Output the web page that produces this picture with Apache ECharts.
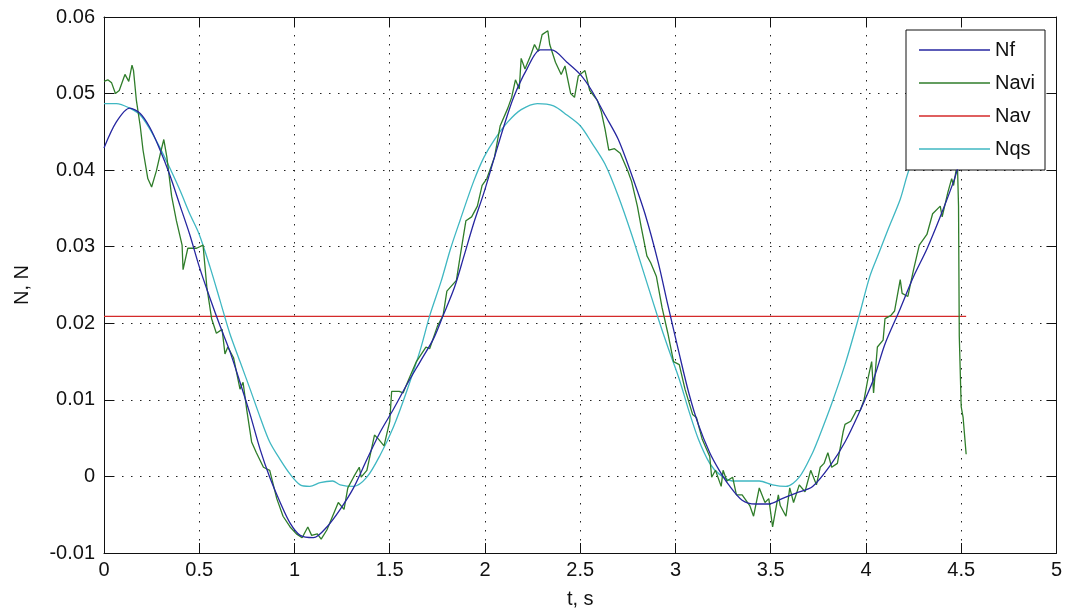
<!DOCTYPE html>
<html><head><meta charset="utf-8">
<script src="https://cdn.jsdelivr.net/npm/echarts@6/dist/echarts.min.js"></script>
<style>html,body{margin:0;padding:0;background:#fff}#c{width:1065px;height:615px}</style>
</head><body><div id="c"></div>
<script>
// ---- data (values in N) ----
const seriesNames = ['Nf', 'Navi', 'Nav', 'Nqs'];

const tNf = [0, 0.065, 0.135, 0.19, 0.24, 0.29, 0.345, 0.40, 0.45, 0.50, 0.556, 0.61, 0.66, 0.714, 0.767, 0.82, 0.87, 0.925, 0.977, 1.03, 1.1, 1.17, 1.24, 1.31, 1.38, 1.45, 1.52, 1.59, 1.66, 1.73, 1.78, 1.84, 1.89, 1.94, 1.995, 2.05, 2.1, 2.15, 2.22, 2.29, 2.35, 2.43, 2.5, 2.56, 2.63, 2.70, 2.77, 2.84, 2.91, 2.96, 3.02, 3.07, 3.12, 3.18, 3.23, 3.28, 3.35, 3.42, 3.49, 3.56, 3.63, 3.72, 3.82, 3.89, 3.96, 4.04, 4.1, 4.18, 4.25, 4.32, 4.39, 4.46, 4.48];
const Nf = [0.0429, 0.0463, 0.0481, 0.0474, 0.0456, 0.0429, 0.0394, 0.0353, 0.0316, 0.0274, 0.0233, 0.0196, 0.0164, 0.0123, 0.0081, 0.0035, -0.0001, -0.0034, -0.0061, -0.0077, -0.0080, -0.0066, -0.0043, -0.0015, 0.0022, 0.0058, 0.0088, 0.0120, 0.0150, 0.0180, 0.0210, 0.0247, 0.0288, 0.0330, 0.0371, 0.0417, 0.0458, 0.0495, 0.0532, 0.0557, 0.0557, 0.0541, 0.0525, 0.0504, 0.0472, 0.0440, 0.0394, 0.0343, 0.0279, 0.0224, 0.0160, 0.0109, 0.0068, 0.0031, 0.0008, -0.0011, -0.0031, -0.0036, -0.0036, -0.0029, -0.0022, -0.0013, 0.0017, 0.0045, 0.0081, 0.0127, 0.0173, 0.0219, 0.0261, 0.0297, 0.0339, 0.0385, 0.0401];

const tNavi = [0, 0.02, 0.04, 0.06, 0.08, 0.11, 0.13, 0.147, 0.155, 0.17, 0.19, 0.205, 0.23, 0.25, 0.275, 0.30, 0.314, 0.33, 0.355, 0.38, 0.41, 0.415, 0.44, 0.486, 0.52, 0.54, 0.565, 0.59, 0.62, 0.635, 0.65, 0.68, 0.714, 0.73, 0.75, 0.775, 0.80, 0.837, 0.87, 0.907, 0.94, 0.977, 1.01, 1.04, 1.07, 1.09, 1.12, 1.14, 1.17, 1.2, 1.23, 1.26, 1.28, 1.31, 1.34, 1.35, 1.38, 1.42, 1.44, 1.47, 1.5, 1.51, 1.55, 1.57, 1.6, 1.64, 1.69, 1.71, 1.75, 1.78, 1.8, 1.85, 1.87, 1.9, 1.93, 1.96, 1.985, 2.01, 2.05, 2.08, 2.12, 2.14, 2.16, 2.18, 2.19, 2.21, 2.24, 2.26, 2.28, 2.3, 2.33, 2.34, 2.37, 2.4, 2.42, 2.45, 2.47, 2.49, 2.525, 2.55, 2.59, 2.61, 2.63, 2.65, 2.68, 2.71, 2.75, 2.77, 2.8, 2.82, 2.85, 2.87, 2.9, 2.93, 2.96, 2.99, 3.02, 3.05, 3.09, 3.11, 3.14, 3.18, 3.19, 3.21, 3.24, 3.25, 3.27, 3.3, 3.32, 3.35, 3.39, 3.41, 3.44, 3.47, 3.49, 3.51, 3.54, 3.55, 3.58, 3.6, 3.62, 3.65, 3.68, 3.71, 3.74, 3.76, 3.78, 3.80, 3.82, 3.85, 3.88, 3.89, 3.92, 3.95, 3.97, 3.99, 4.01, 4.03, 4.04, 4.06, 4.09, 4.1, 4.13, 4.15, 4.18, 4.19, 4.22, 4.25, 4.28, 4.32, 4.35, 4.39, 4.4, 4.43, 4.45, 4.46, 4.48, 4.486, 4.49, 4.5, 4.51, 4.526];
const Navi = [0.0516, 0.0518, 0.0514, 0.0500, 0.0504, 0.0525, 0.0516, 0.0537, 0.0530, 0.0491, 0.0458, 0.0426, 0.0389, 0.0378, 0.0399, 0.0426, 0.0440, 0.0417, 0.0366, 0.0334, 0.0302, 0.0270, 0.0298, 0.0298, 0.0302, 0.0247, 0.0206, 0.0187, 0.0192, 0.0160, 0.0169, 0.0155, 0.0114, 0.0123, 0.0086, 0.0045, 0.0031, 0.0012, 0.0008, -0.0029, -0.0052, -0.0066, -0.0075, -0.0080, -0.0066, -0.0077, -0.0075, -0.0082, -0.0070, -0.0052, -0.0034, -0.0043, -0.0015, -0.0001, 0.0012, -0.0001, 0.0008, 0.0054, 0.0049, 0.0040, 0.0072, 0.0111, 0.0111, 0.0109, 0.0127, 0.0150, 0.0169, 0.0167, 0.0196, 0.0210, 0.0242, 0.0256, 0.0288, 0.0334, 0.0339, 0.0353, 0.0380, 0.0389, 0.0417, 0.0458, 0.0481, 0.0495, 0.0518, 0.0506, 0.0546, 0.0532, 0.0550, 0.0564, 0.0555, 0.0577, 0.0582, 0.0564, 0.0541, 0.0525, 0.0536, 0.0500, 0.0495, 0.0523, 0.0530, 0.0504, 0.0491, 0.0477, 0.0454, 0.0426, 0.0428, 0.0422, 0.0399, 0.0385, 0.0353, 0.0326, 0.0288, 0.0279, 0.0261, 0.0220, 0.0187, 0.0150, 0.0146, 0.0114, 0.0081, 0.0077, 0.0049, 0.0026, -0.0001, 0.0008, -0.0013, 0.0008, -0.0006, -0.0001, -0.0024, -0.0024, -0.0038, -0.0052, -0.0015, -0.0034, -0.0029, -0.0066, -0.0024, -0.0038, -0.0052, -0.0015, -0.0034, -0.0011, -0.0020, 0.0008, -0.0011, 0.0012, 0.0017, 0.0031, 0.0012, 0.0017, 0.0058, 0.0068, 0.0072, 0.0086, 0.0086, 0.0100, 0.0127, 0.0150, 0.0109, 0.0169, 0.0178, 0.0206, 0.0210, 0.0216, 0.0257, 0.0239, 0.0235, 0.0270, 0.0302, 0.0316, 0.0343, 0.0353, 0.0339, 0.0371, 0.0389, 0.0380, 0.0410, 0.0353, 0.0183, 0.0091, 0.0077, 0.0029];

const tNav = [0, 4.526];
const Nav = [0.0209, 0.0209];

const tNqs = [0, 0.065, 0.135, 0.19, 0.24, 0.29, 0.345, 0.40, 0.45, 0.50, 0.556, 0.61, 0.66, 0.714, 0.767, 0.82, 0.87, 0.925, 0.977, 1.03, 1.08, 1.135, 1.2, 1.24, 1.31, 1.38, 1.45, 1.52, 1.59, 1.66, 1.71, 1.77, 1.82, 1.87, 1.94, 1.995, 2.05, 2.12, 2.19, 2.275, 2.36, 2.43, 2.5, 2.56, 2.63, 2.70, 2.77, 2.84, 2.91, 2.96, 3.02, 3.07, 3.12, 3.18, 3.23, 3.30, 3.37, 3.44, 3.51, 3.58, 3.65, 3.72, 3.75, 3.82, 3.89, 3.96, 4.02, 4.07, 4.12, 4.18, 4.23, 4.30, 4.38, 4.46, 4.5];
const Nqs = [0.0487, 0.0487, 0.0481, 0.0472, 0.0454, 0.0431, 0.0403, 0.0373, 0.0343, 0.0316, 0.0274, 0.0229, 0.0187, 0.0150, 0.0114, 0.0077, 0.0045, 0.0022, 0.0003, -0.0011, -0.0013, -0.0008, -0.0006, -0.0011, -0.0013, -0.0001, 0.0028, 0.0065, 0.0112, 0.0165, 0.0210, 0.0255, 0.0298, 0.0335, 0.0385, 0.0417, 0.0440, 0.0463, 0.0479, 0.0487, 0.0484, 0.0472, 0.0458, 0.0436, 0.0408, 0.0366, 0.0316, 0.0261, 0.0206, 0.0169, 0.0127, 0.0086, 0.0049, 0.0017, 0.0003, -0.0006, -0.0006, -0.0006, -0.0011, -0.0013, -0.0001, 0.0031, 0.0049, 0.0095, 0.0146, 0.0206, 0.0261, 0.0293, 0.0325, 0.0362, 0.0403, 0.0435, 0.0460, 0.0478, 0.0483];

const xMin = 0, xMax = 5, xStep = 0.5;
const yMin = -0.01, yMax = 0.06, yStep = 0.01;

// ---- build ----
const zip = (t, v) => t.map((x, i) => [x, v[i]]);
const colors = ['#2626a0', '#2f7d2a', '#d42a2a', '#3fb7c2'];
const font = 'Liberation Sans, Arial, Helvetica, sans-serif';
const fs = 20;
const gridDash = { color: '#222', width: 1, type: [1.5, 7.5] };

const chart = echarts.init(document.getElementById('c'), null, { renderer: 'canvas' });
chart.setOption({
  animation: false,
  backgroundColor: '#fff',
  grid: { left: 104, right: 7, top: 17, bottom: 62, containLabel: false },
  xAxis: [
    {
      type: 'value', min: xMin, max: xMax, interval: xStep, position: 'bottom',
      name: 't, s', nameLocation: 'middle', nameGap: 36,
      nameTextStyle: { color: '#111', fontSize: fs, fontFamily: font },
      axisLine: { show: true, onZero: false, lineStyle: { color: '#111', width: 1 } },
      axisTick: { show: true, inside: true, length: 10, lineStyle: { color: '#111' } },
      axisLabel: { color: '#111', fontSize: fs, fontFamily: font, margin: 7 },
      splitLine: { show: true, lineStyle: gridDash }
    },
    {
      type: 'value', min: xMin, max: xMax, interval: xStep, position: 'top',
      axisLine: { show: true, onZero: false, lineStyle: { color: '#111', width: 1 } },
      axisTick: { show: true, inside: true, length: 10, lineStyle: { color: '#111' } },
      axisLabel: { show: false }, splitLine: { show: false }
    }
  ],
  yAxis: [
    {
      type: 'value', min: yMin, max: yMax, interval: yStep, position: 'left',
      name: 'N, N', nameLocation: 'middle', nameGap: 72,
      nameTextStyle: { color: '#111', fontSize: fs, fontFamily: font },
      axisLine: { show: true, onZero: false, lineStyle: { color: '#111', width: 1 } },
      axisTick: { show: true, inside: true, length: 10, lineStyle: { color: '#111' } },
      axisLabel: { color: '#111', fontSize: fs, fontFamily: font, margin: 9,
        formatter: v => String(+v.toFixed(2)) },
      splitLine: { show: true, lineStyle: gridDash }
    },
    {
      type: 'value', min: yMin, max: yMax, interval: yStep, position: 'right',
      axisLine: { show: true, onZero: false, lineStyle: { color: '#111', width: 1 } },
      axisTick: { show: true, inside: true, length: 10, lineStyle: { color: '#111' } },
      axisLabel: { show: false }, splitLine: { show: false }
    }
  ],
  legend: {
    orient: 'vertical', left: 906, top: 30,
    data: seriesNames,
    icon: 'rect', itemWidth: 71, itemHeight: 1.5, itemGap: 11, itemTextGap: 8,
    padding: [9, 10, 10, 13],
    backgroundColor: '#fff', borderColor: '#111', borderWidth: 1, borderRadius: 0,
    textStyle: { color: '#111', fontSize: fs, fontFamily: font, lineHeight: 22 }
  },
  series: [
    { name: 'Nf', type: 'line', data: zip(tNf, Nf), smooth: 0.3, showSymbol: false, symbol: 'none',
      lineStyle: { color: colors[0], width: 1.3 }, itemStyle: { color: colors[0] }, z: 4 },
    { name: 'Navi', type: 'line', data: zip(tNavi, Navi), showSymbol: false, symbol: 'none',
      lineStyle: { color: colors[1], width: 1.3 }, itemStyle: { color: colors[1] }, z: 3 },
    { name: 'Nav', type: 'line', data: zip(tNav, Nav), showSymbol: false, symbol: 'none',
      lineStyle: { color: colors[2], width: 1.3 }, itemStyle: { color: colors[2] }, z: 2 },
    { name: 'Nqs', type: 'line', data: zip(tNqs, Nqs), smooth: 0.3, showSymbol: false, symbol: 'none',
      lineStyle: { color: colors[3], width: 1.3 }, itemStyle: { color: colors[3] }, z: 2 }
  ]
});
</script></body></html>
